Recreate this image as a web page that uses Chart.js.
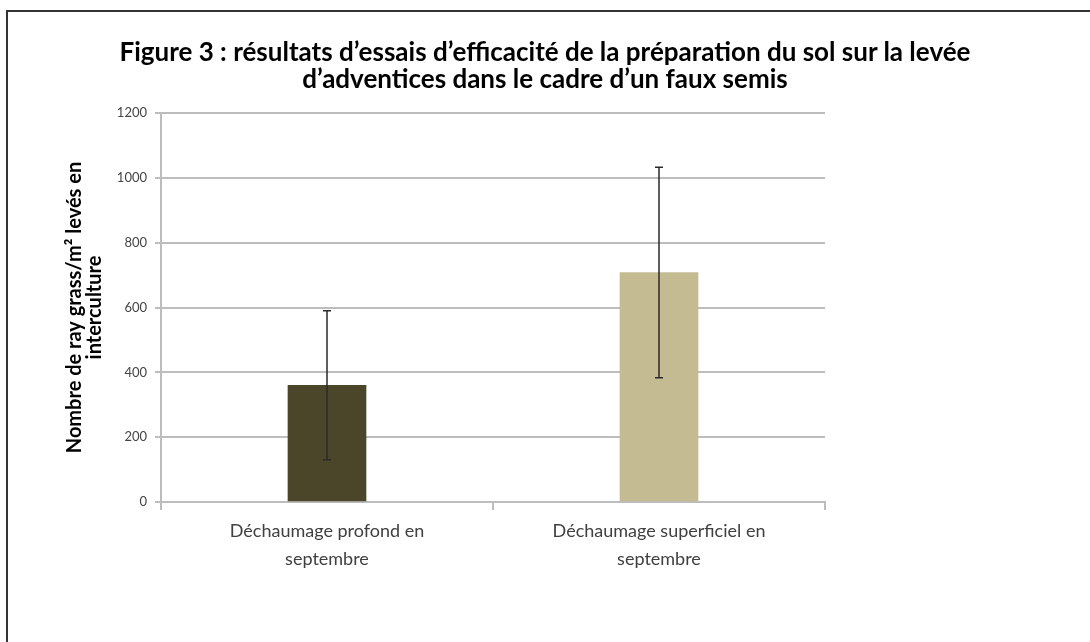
<!DOCTYPE html>
<html lang="fr">
<head>
<meta charset="utf-8">
<title>Figure 3</title>
<script src="https://cdn.jsdelivr.net/npm/chart.js@4"></script>
<style>
  body { margin: 0; background: #fff; }
  #wrap { position: relative; width: 1090px; height: 642px; }
  #frame {
    position: absolute; left: 6px; top: 10px; right: 0; bottom: 0;
    border-top: 2px solid #333; border-left: 2px solid #333;
    pointer-events: none;
  }
  #title {
    position: absolute; left: 0; right: 0; top: 38px;
    text-align: center; font-family: Lato, sans-serif; font-weight: bold;
    font-size: 26px; line-height: 27px; color: #000;
  }
  canvas { position: absolute; left: 0; top: 0; }
</style>
</head>
<body>
<div id="wrap">
  <canvas id="chart" width="1090" height="642"></canvas>
  <div id="title"></div>
  <div id="frame"></div>
</div>
<script>
const categories = [
  ["Déchaumage profond en", "septembre"],
  ["Déchaumage superficiel en", "septembre"]
];
const means = [360, 708];
const errors = [230, 325];
const barColors = ["#4b4629", "#c4bb93"];
const yMax = 1200;
const yStep = 200;

const titleLines = [
  "Figure 3 : résultats d’essais d’efficacité de la préparation du sol sur la levée",
  "d’adventices dans le cadre d’un faux semis"
];
const yTitle = ["Nombre de ray grass/m² levés en", "interculture"];

document.getElementById("title").innerHTML = titleLines.join("<br>");

// error bars drawn from the y scale
const errorBars = {
  id: "errorBars",
  afterDatasetsDraw(chart) {
    const ctx = chart.ctx;
    const y = chart.scales.y;
    const meta = chart.getDatasetMeta(0);
    ctx.save();
    ctx.strokeStyle = "#2a2a2a";
    ctx.lineWidth = 1.5;
    meta.data.forEach((bar, i) => {
      const top = y.getPixelForValue(means[i] + errors[i]);
      const bot = y.getPixelForValue(means[i] - errors[i]);
      ctx.beginPath();
      ctx.moveTo(bar.x, top);
      ctx.lineTo(bar.x, bot);
      ctx.moveTo(bar.x - 4, top);
      ctx.lineTo(bar.x + 4, top);
      ctx.moveTo(bar.x - 4, bot);
      ctx.lineTo(bar.x + 4, bot);
      ctx.stroke();
    });
    ctx.restore();
  }
};

new Chart(document.getElementById("chart"), {
  type: "bar",
  data: {
    labels: categories,
    datasets: [
      {
        data: means,
        backgroundColor: barColors,
        barThickness: 78
      }
    ]
  },
  options: {
    responsive: false,
    animation: false,
    layout: { padding: { left: 65, right: 265, top: 113, bottom: 0 } },
    plugins: {
      legend: { display: false },
      tooltip: { enabled: false },
      title: { display: false }
    },
    scales: {
      x: {
        grid: {
          offset: true,
          drawOnChartArea: false,
          color: "#bdbdbd",
          lineWidth: 2,
          tickLength: 8
        },
        border: { color: "#bdbdbd", width: 2 },
        ticks: {
          color: "#404040",
          padding: 7,
          font: { family: "Lato", size: 18, lineHeight: 1.55 }
        },
        afterFit(scale) {
          scale.height = 140;
        }
      },
      y: {
        min: 0,
        max: yMax,
        ticks: {
          stepSize: yStep,
          color: "#444",
          padding: 8,
          font: { family: "Lato", size: 13 },
          callback: (value) => String(value)
        },
        grid: { color: "#bdbdbd", lineWidth: 2, tickLength: 6 },
        border: { color: "#bdbdbd", width: 2 },
        title: {
          display: true,
          text: yTitle,
          color: "#000",
          font: { family: "Lato", size: 20, weight: "bold", lineHeight: 1.0 },
          padding: { top: 0, bottom: 0 }
        },
        afterFit(scale) {
          scale.width = 96;
        }
      }
    }
  },
  plugins: [errorBars]
});
</script>
</body>
</html>
